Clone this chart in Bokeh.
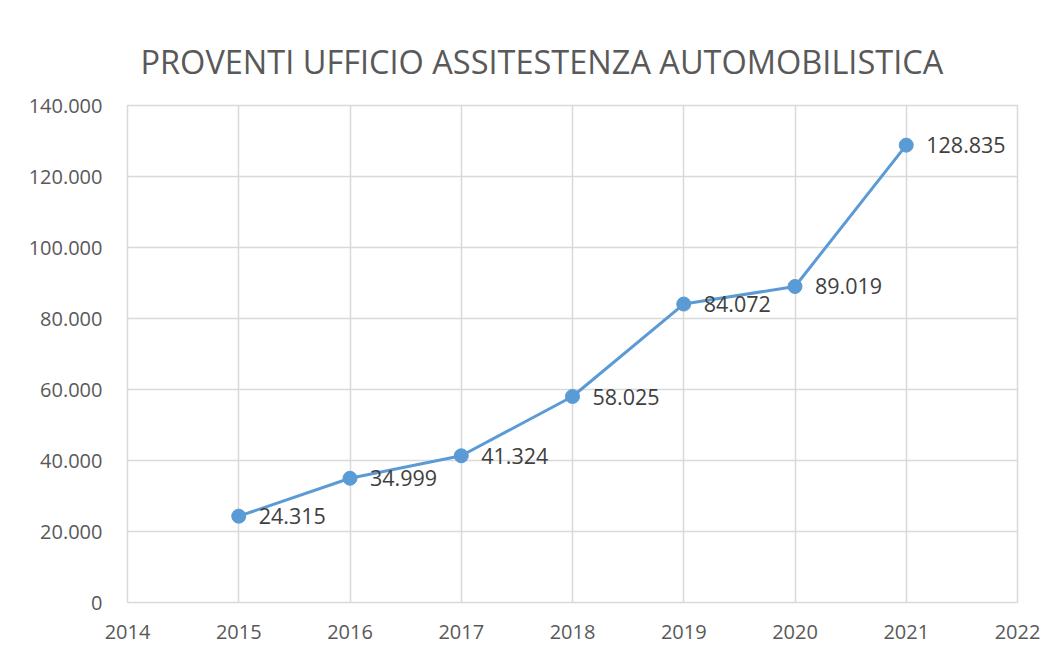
from bokeh.plotting import figure
from bokeh.models import ColumnDataSource, FixedTicker, Title
from bokeh.core.properties import value
from bokeh.embed import file_html
from bokeh.resources import INLINE

years = [2015, 2016, 2017, 2018, 2019, 2020, 2021]
proventi = [24315, 34999, 41324, 58025, 84072, 89019, 128835]
value_labels = ["24.315", "34.999", "41.324", "58.025", "84.072", "89.019", "128.835"]
x_ticks = [2014, 2015, 2016, 2017, 2018, 2019, 2020, 2021, 2022]
y_ticks = [0, 20000, 40000, 60000, 80000, 100000, 120000, 140000]
y_tick_labels = ["0", "20.000", "40.000", "60.000", "80.000", "100.000", "120.000", "140.000"]
title_text = "PROVENTI UFFICIO ASSITESTENZA AUTOMOBILISTICA"

FONT = "Open Sans"
BLUE = "#5B9BD5"
GRID = "#d9d9d9"

src = ColumnDataSource(dict(x=years, y=proventi, lab=value_labels))

p = figure(width=1054, height=653, output_backend="svg", toolbar_location=None,
           x_range=(2014, 2022), y_range=(0, 140000),
           min_border_left=127, min_border_right=37, min_border_top=105, min_border_bottom=51)

t = Title(text=title_text, align="left", text_font=FONT, text_font_size="32.5px",
          text_color="#595959", text_font_style="normal", standoff=43, offset=13)
p.add_layout(t, "above")

p.line("x", "y", source=src, line_color=BLUE, line_width=3)
p.scatter("x", "y", source=src, size=14, fill_color=BLUE, line_color=BLUE)
p.text("x", "y", text="lab", source=src, x_offset=20, y_offset=0,
       text_font=value(FONT), text_font_size="21.5px", text_color="#404040",
       text_baseline="middle", text_align="left")

p.xaxis.ticker = FixedTicker(ticks=x_ticks)
p.yaxis.ticker = FixedTicker(ticks=y_ticks)
p.yaxis.major_label_overrides = {v: s for v, s in zip(y_ticks, y_tick_labels)}
p.xaxis.major_label_overrides = {v: str(v) for v in x_ticks}

for ax in (p.xaxis, p.yaxis):
    ax.axis_line_color = None
    ax.major_tick_line_color = None
    ax.minor_tick_line_color = None
    ax.major_label_text_font = FONT
    ax.major_label_text_font_size = "20px"
    ax.major_label_text_color = "#595959"
p.xaxis.major_label_standoff = 16
p.yaxis.major_label_standoff = 19

p.xgrid.grid_line_color = GRID
p.ygrid.grid_line_color = GRID
p.xgrid.grid_line_width = 1.5
p.ygrid.grid_line_width = 1.5
p.outline_line_color = GRID
p.outline_line_width = 1.5
p.background_fill_color = "white"
p.border_fill_color = "white"

open("out.html", "w").write(file_html(p, INLINE))
